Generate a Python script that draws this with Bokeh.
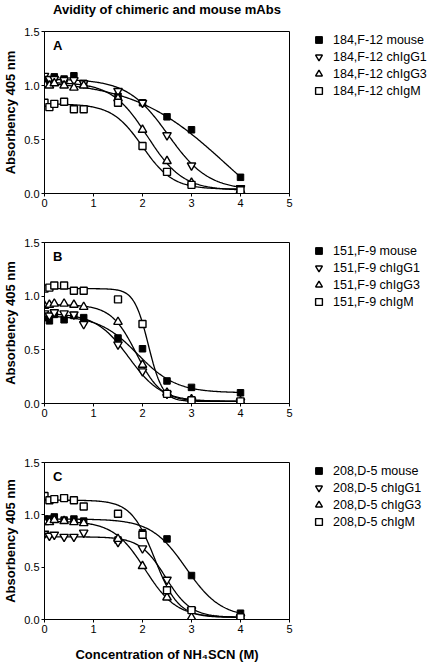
import numpy as np
from bokeh.plotting import figure
from bokeh.layouts import column, row
from bokeh.models import (Range1d, FixedTicker, Legend, LegendItem, Label,
                          NumeralTickFormatter)
from bokeh.core.properties import value
from bokeh.embed import file_html
from bokeh.resources import INLINE

# ---------------- data ----------------
conc = [0, 0.1, 0.2, 0.4, 0.6, 0.8, 1.5, 2, 2.5, 3, 4]   # NH4SCN (M)

A_names = ["184,F-12 mouse", "184,F-12 chIgG1", "184,F-12 chIgG3", "184,F-12 chIgM"]
A_mouse = [1.02, 1.05, 1.08, 1.06, 1.09, 1.02, 0.90, 0.84, 0.71, 0.59, 0.15]
A_g1    = [1.09, 1.06, 1.06, 1.05, 1.05, 1.02, 0.95, 0.84, 0.54, 0.26, 0.05]
A_g3    = [1.01, 1.00, 1.02, 1.00, 0.98, 1.00, 0.88, 0.59, 0.30, 0.10, 0.03]
A_igm   = [0.84, 0.80, 0.83, 0.85, 0.78, 0.78, 0.84, 0.44, 0.20, 0.08, 0.03]

B_names = ["151,F-9 mouse", "151,F-9 chIgG1", "151,F-9 chIgG3", "151,F-9 chIgM"]
B_mouse = [0.80, 0.77, 0.83, 0.78, 0.82, 0.80, 0.61, 0.51, 0.21, 0.15, 0.10]
B_g1    = [0.84, 0.82, 0.85, 0.84, 0.83, 0.74, 0.55, 0.30, 0.09, 0.03, 0.02]
B_g3    = [0.91, 0.92, 0.93, 0.93, 0.92, 0.90, 0.76, 0.36, 0.10, 0.04, 0.02]
B_igm   = [1.07, 1.08, 1.10, 1.10, 1.05, 1.05, 0.97, 0.74, 0.09, 0.03, 0.02]

C_names = ["208,D-5 mouse", "208,D-5 chIgG1", "208,D-5 chIgG3", "208,D-5 chIgM"]
C_mouse = [0.96, 0.96, 0.98, 0.95, 0.96, 0.94, 0.76, 0.83, 0.77, 0.42, 0.06]
C_g1    = [0.82, 0.80, 0.81, 0.79, 0.79, 0.83, 0.74, 0.68, 0.38, 0.09, 0.02]
C_g3    = [0.93, 0.93, 0.95, 0.94, 0.93, 0.92, 0.77, 0.51, 0.21, 0.02, 0.02]
C_igm   = [1.18, 1.14, 1.15, 1.16, 1.14, 1.08, 1.01, 0.81, 0.28, 0.09, 0.02]

# sigmoidal fit parameters: (top, bottom, x50, hill)
A_fit = [(1.05, -0.50, 3.70, 0.46), (1.06, 0.03, 2.52, 1.05),
         (1.03, 0.03, 2.10, 1.20), (0.83, 0.04, 2.00, 1.40)]
B_fit = [(0.82, 0.10, 1.90, 1.10), (0.84, 0.02, 1.72, 1.30),
         (0.92, 0.02, 1.87, 1.70), (1.07, 0.02, 2.12, 3.00)]
C_fit = [(0.96, 0.02, 2.89, 1.22), (0.79, 0.02, 2.47, 1.67),
         (0.94, 0.02, 2.05, 1.35), (1.14, 0.02, 2.25, 1.80)]

x_ticks = [0, 1, 2, 3, 4, 5]
y_ticks = [0.0, 0.5, 1.0, 1.5]

TITLE = "Avidity of chimeric and mouse mAbs"
YLABEL = "Absorbency 405 nm"
XLABEL = "Concentration of NH\u2084SCN (M)"

FONT = "Liberation Sans"

MARKERS = [
    dict(marker="square", size=6.5, fill_color="black", line_color="black", line_width=1),
    dict(marker="inverted_triangle", size=8.5, fill_color="white", line_color="black", line_width=1.4),
    dict(marker="triangle", size=8.5, fill_color="white", line_color="black", line_width=1.4),
    dict(marker="square", size=7, fill_color="white", line_color="black", line_width=1.4),
]

TOTAL_W = 438
LEFT, FRAME_W, RIGHT_PAD = 44, 245, 5
PLOT_W = LEFT + FRAME_W + RIGHT_PAD
LEG_W = TOTAL_W - PLOT_W
GLYPH_LEFT = 310
TITLE_H = 17


def panel(letter, names, data, fits, height, top, bottom, legend_top,
          xlabel=None):
    p = figure(width=PLOT_W, height=height, x_range=Range1d(0, 5),
               y_range=Range1d(0, 1.5), output_backend="svg",
               toolbar_location=None, min_border_left=LEFT,
               min_border_right=RIGHT_PAD, min_border_top=top,
               min_border_bottom=bottom)
    p.background_fill_color = "white"
    p.border_fill_color = "white"
    p.outline_line_color = "black"
    p.outline_line_width = 1
    p.xgrid.visible = False
    p.ygrid.visible = False

    p.xaxis.ticker = FixedTicker(ticks=x_ticks, minor_ticks=[])
    p.yaxis.ticker = FixedTicker(ticks=y_ticks, minor_ticks=[])
    p.yaxis.formatter = NumeralTickFormatter(format="0.0")
    for ax in (p.xaxis, p.yaxis):
        ax.axis_line_color = "black"
        ax.major_tick_line_color = "black"
        ax.major_tick_out = 3
        ax.major_tick_in = 0
        ax.minor_tick_out = 0
        ax.minor_tick_in = 0
        ax.major_label_text_font = FONT
        ax.major_label_text_font_size = "11px"
        ax.major_label_text_color = "black"
        ax.major_label_standoff = 2
        ax.axis_label_text_font = FONT
        ax.axis_label_text_font_size = "13px"
        ax.axis_label_text_font_style = "bold"
        ax.axis_label_text_color = "black"
    p.yaxis.axis_label = YLABEL
    p.yaxis.axis_label_standoff = 3
    if xlabel:
        p.xaxis.axis_label = xlabel
        p.xaxis.axis_label_standoff = 11

    xs = np.linspace(0, 4, 201)
    for (tp, bt, x50, h) in fits:
        ys = bt + (tp - bt) / (1 + 10 ** ((xs - x50) * h))
        p.line(xs, ys, line_color="black", line_width=1.3)

    for vals, mk in zip(data, MARKERS):
        p.scatter(conc, vals, **mk)

    p.add_layout(Label(x=0.27, y=1.37, text=letter, text_font=FONT,
                       text_font_size="13px", text_font_style="bold",
                       text_align="center", text_baseline="middle",
                       text_color="black"))

    # legend lives in a small companion figure to the right; its frame
    # starts exactly where the legend's top-left corner belongs
    lf = figure(width=LEG_W, height=height, x_range=Range1d(10, 11),
                y_range=Range1d(10, 11), output_backend="svg",
                toolbar_location=None,
                min_border_left=GLYPH_LEFT - PLOT_W, min_border_right=0,
                min_border_top=legend_top, min_border_bottom=0,
                x_axis_type=None, y_axis_type=None)
    lf.outline_line_color = None
    lf.background_fill_color = "white"
    lf.border_fill_color = "white"
    lf.xgrid.visible = False
    lf.ygrid.visible = False
    items = []
    for name, vals, mk in zip(names, data, MARKERS):
        r = lf.scatter(conc, vals, **mk)
        items.append(LegendItem(label=name, renderers=[r]))
    row_h = 17
    leg = Legend(items=items, location="top_left",
                 padding=0, margin=0, spacing=0, glyph_width=17,
                 glyph_height=row_h, label_height=row_h, label_standoff=6,
                 label_text_font=FONT, label_text_font_size="12.5px",
                 label_text_color="black", border_line_alpha=0,
                 background_fill_alpha=0)
    lf.add_layout(leg)
    return row(p, lf, spacing=0)


# title strip across the top, centred over the plot frames
tf = figure(width=TOTAL_W, height=TITLE_H, x_range=Range1d(0, TOTAL_W),
            y_range=Range1d(0, TITLE_H), output_backend="svg",
            toolbar_location=None, min_border=0,
            x_axis_type=None, y_axis_type=None)
tf.outline_line_color = None
tf.background_fill_color = "white"
tf.border_fill_color = "white"
tf.xgrid.visible = False
tf.ygrid.visible = False
tf.text(x=[LEFT + FRAME_W / 2], y=[TITLE_H / 2], text=[TITLE],
        text_align="center", text_baseline="middle",
        text_font=value(FONT), text_font_size="13px",
        text_font_style="bold", text_color="black")

rA = panel("A", A_names, [A_mouse, A_g1, A_g3, A_igm], A_fit,
           height=216 - TITLE_H, top=29 - TITLE_H, bottom=23,
           legend_top=31 - TITLE_H)
rB = panel("B", B_names, [B_mouse, B_g1, B_g3, B_igm], B_fit,
           height=220, top=23, bottom=33, legend_top=26)
rC = panel("C", C_names, [C_mouse, C_g1, C_g3, C_igm], C_fit,
           height=228, top=23, bottom=41, legend_top=26, xlabel=XLABEL)

layout = column(tf, rA, rB, rC, spacing=0)

open("out.html", "w").write(file_html(layout, INLINE))
